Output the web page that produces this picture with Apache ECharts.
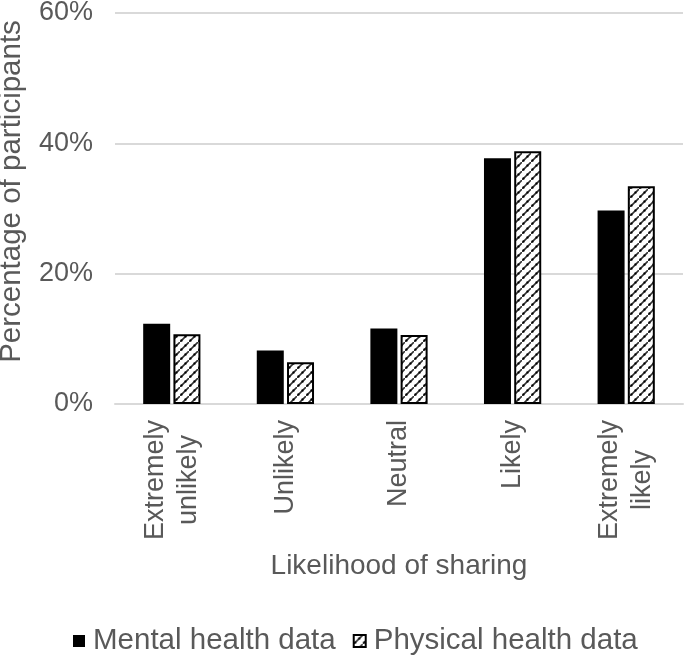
<!DOCTYPE html>
<html>
<head>
<meta charset="utf-8">
<script src="https://cdn.jsdelivr.net/npm/echarts@6/dist/echarts.min.js"></script>
<style>
html,body{margin:0;padding:0;background:#fff;}
#chart{width:685px;height:664px;}
</style>
</head>
<body>
<div id="chart"></div>
<script>
var categories = ['Extremely\nunlikely', 'Unlikely', 'Neutral', 'Likely', 'Extremely\nlikely'];
var mentalValues = [12.3, 8.2, 11.6, 37.7, 29.7];
var physicalValues = [10.7, 6.4, 10.6, 38.8, 33.4];
var yTicks = [0, 20, 40, 60];

function makePattern() {
  var n = 9;
  var c = document.createElement('canvas');
  c.width = n; c.height = n;
  var ctx = c.getContext('2d');
  ctx.fillStyle = '#fff';
  ctx.fillRect(0, 0, n, n);
  ctx.strokeStyle = '#333';
  ctx.lineWidth = 1.6;
  ctx.beginPath();
  ctx.moveTo(-1, n + 1); ctx.lineTo(n + 1, -1);
  ctx.stroke();
  ctx.fillStyle = '#000';
  [1, 5].forEach(function (i) { ctx.fillRect(i - 0.5, n - 1.5 - i, 2, 2); });
  return c;
}
var pattern = makePattern();

var chart = echarts.init(document.getElementById('chart'));
var txt = '#595959';
var font = 'Liberation Sans, Arial, sans-serif';
chart.setOption({
  animation: false,
  textStyle: { fontFamily: font },
  grid: { left: 115, right: 2, top: 13, bottom: 260, outerBoundsMode: 'none', containLabel: false },
  legend: {
    bottom: 3,
    left: 68,
    itemWidth: 12,
    itemHeight: 12,
    itemGap: 17,
    textStyle: { fontSize: 29.5, color: txt, fontFamily: font, padding: [0, 0, 0, 3] },
    data: [
      { name: 'Mental health data', icon: 'rect' },
      { name: 'Physical health data', icon: 'rect' }
    ]
  },
  xAxis: {
    type: 'category',
    data: categories,
    name: 'Likelihood of sharing',
    nameLocation: 'middle',
    nameGap: 148,
    nameTextStyle: { fontSize: 28, color: txt },
    axisLine: { lineStyle: { color: '#d9d9d9', width: 2 } },
    axisTick: { show: false },
    axisLabel: {
      rotate: 90, fontSize: 27, color: txt, margin: 16, lineHeight: 33, interval: 0,
      formatter: function (v) {
        return v.split('\n').map(function (s) { return '{c|' + s + '}'; }).join('\n');
      },
      rich: { c: { fontSize: 27, color: txt, lineHeight: 33, align: 'center', fontFamily: font } }
    }
  },
  yAxis: {
    type: 'value',
    min: 0,
    max: 60,
    interval: 20,
    name: 'Percentage of participants',
    nameLocation: 'middle',
    nameGap: 88,
    nameTextStyle: { fontSize: 29.5, color: txt, padding: [0, 0, 0, 34] },
    axisLine: { show: false },
    axisTick: { show: false },
    axisLabel: { fontSize: 27, color: txt, margin: 22, formatter: function (v) { return yTicks.indexOf(v) >= 0 ? v + '%' : ''; } },
    splitLine: { lineStyle: { color: '#d9d9d9', width: 2 } }
  },
  series: [
    {
      name: 'Mental health data',
      type: 'bar',
      data: mentalValues,
      barWidth: 27,
      barGap: '12%',
      itemStyle: { color: '#000' }
    },
    {
      name: 'Physical health data',
      type: 'bar',
      data: physicalValues,
      barWidth: 27,
      itemStyle: { color: { image: pattern, repeat: 'repeat' }, borderColor: '#000', borderWidth: 2 }
    }
  ]
});
</script>
</body>
</html>
